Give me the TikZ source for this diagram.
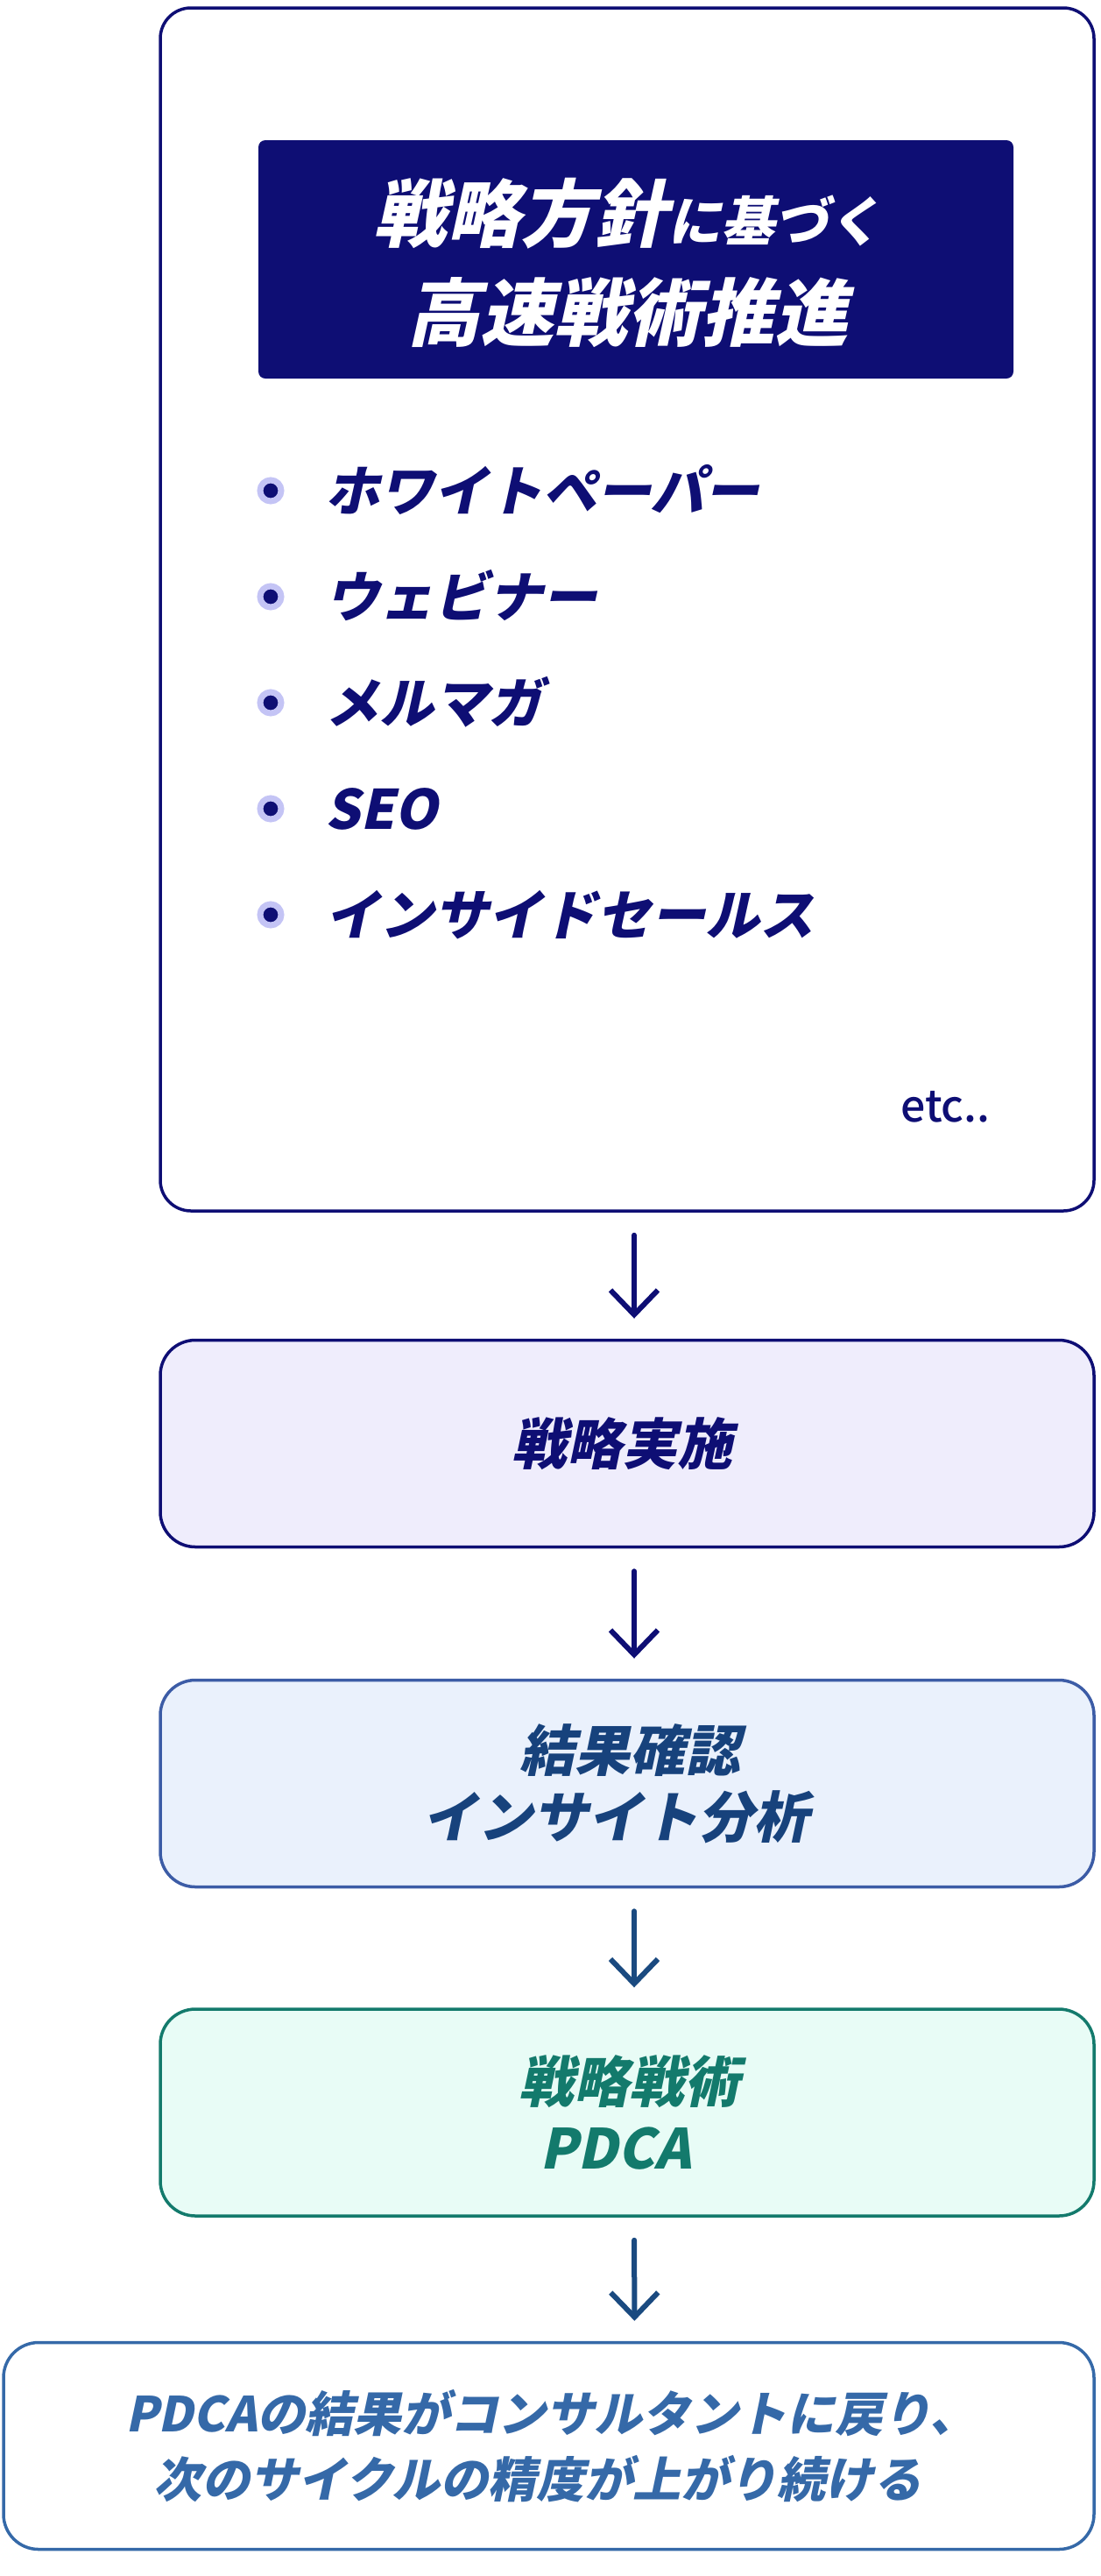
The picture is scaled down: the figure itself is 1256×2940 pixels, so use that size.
\documentclass[tikz,border=0pt]{standalone}
\usepackage{fontspec}
\usetikzlibrary{arrows.meta}
\newfontfamily\jpgras{Noto Sans CJK JP Black}[FakeSlant=0.22]
\newfontfamily\jpnoir{Noto Sans CJK JP Black}
\newfontfamily\jpmoyen{Noto Sans CJK JP Medium}
\definecolor{marine}{RGB}{14,14,116}
\definecolor{lavande}{RGB}{196,196,245}
\definecolor{fondmauve}{RGB}{239,237,252}
\definecolor{bleu}{RGB}{60,92,166}
\definecolor{bleutexte}{RGB}{23,66,124}
\definecolor{fondbleu}{RGB}{234,241,252}
\definecolor{vert}{RGB}{19,122,108}
\definecolor{fondvert}{RGB}{232,252,246}
\definecolor{acier}{RGB}{53,105,168}
\definecolor{flechebleue}{RGB}{26,74,128}
\begin{document}
\begin{tikzpicture}[x=1pt,y=-1pt,
    boite/.style={draw,line width=3.5pt,rounded corners=40pt,minimum width=1066pt,minimum height=236pt,inner sep=0pt},
    texte/.style={align=center,inner sep=0pt,transform shape,xslant=0.21,font=\jpnoir\fontsize{63}{76}\selectfont},
    fleche/.style={-{Straight Barb[length=28pt,width=54pt]},line width=6pt,line cap=round,
      shorten <=26pt,shorten >=23pt},
    puce/.style={circle,fill=marine,draw=lavande,line width=7pt,minimum size=24pt,inner sep=0pt}]
  \useasboundingbox (0,0) rectangle (1256,2940);
  % cadre du haut
  \node[draw=marine,line width=3.5pt,rounded corners=35pt,minimum width=1066pt,minimum height=1373pt] (cadre) at (716,695.5) {};
  \node[fill=marine,rounded corners=8pt,minimum width=862pt,minimum height=272pt] (titre) at (726,296) {};
  \node[text=white,align=center,inner sep=0pt,font=\jpgras\fontsize{84}{113}\selectfont] (titre-t) at (716,300)
    {戦略方針{\fontsize{61}{113}\selectfont に基づく}\\高速戦術推進};
  \foreach \txt [count=\i] in {ホワイトペーパー,ウェビナー,メルマガ,SEO,インサイドセールス}{
    \node[puce] (p\i) at (309,{439+121*\i}) {};
    \node[anchor=base west,text=marine,font=\jpgras\fontsize{62}{75}\selectfont] (t\i) at (368,{462+121*\i}) {\txt};
  }
  \node[anchor=base west,inner sep=0pt,text=marine,font=\jpmoyen\fontsize{50}{60}\selectfont] (etc) at (1028,1280) {etc..};
  % les etapes
  \node[boite,draw=marine,fill=fondmauve] (execution) at (716,1647.5) {};
  \node[boite,draw=bleu,fill=fondbleu] (analyse) at (716,2035.5) {};
  \node[boite,draw=vert,fill=fondvert] (pdca) at (716,2411) {};
  \node[boite,draw=acier,fill=white,minimum width=1245pt] (retour) at (626.5,2791.5) {};
  \node[texte,text=marine] (execution-t) at (execution) {戦略実施};
  \node[texte,text=bleutexte] (analyse-t) at (analyse) {結果確認\\インサイト分析};
  \node[texte,text=vert] (pdca-t) at (pdca) {戦略戦術\\PDCA};
  \node[texte,text=acier,font=\jpnoir\fontsize{55}{75}\selectfont] (retour-t) at (retour)
    {PDCAの結果がコンサルタントに戻り、\\次のサイクルの精度が上がり続ける};
  \draw[fleche,marine] ([xshift=8pt]cadre.south) -- ([xshift=8pt]execution.north);
  \draw[fleche,marine] ([xshift=8pt]execution.south) -- ([xshift=8pt]analyse.north);
  \draw[fleche,flechebleue] ([xshift=8pt]analyse.south) -- ([xshift=8pt]pdca.north);
  \draw[fleche,flechebleue] ([xshift=8pt]pdca.south) -- ([xshift=98pt]retour.north);
\end{tikzpicture}
\end{document}
